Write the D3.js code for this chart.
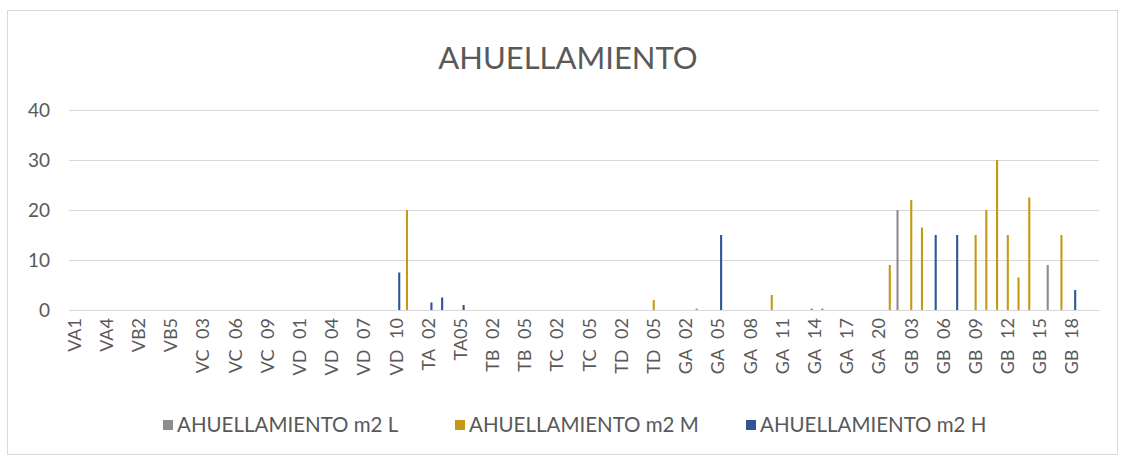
<!DOCTYPE html>
<html>
<head>
<meta charset="utf-8">
<script src="https://cdn.jsdelivr.net/npm/d3@7/dist/d3.min.js"></script>
<style>
  html, body { margin: 0; padding: 0; background: #fff; }
  svg text { font-family: Lato, "Open Sans", sans-serif; fill: #595959; }
</style>
</head>
<body>
<svg id="chart" width="1124" height="459"></svg>
<script>
// Sections of the road survey
const categories = [
  "VA1", "VA2", "VA3", "VA4", "VA5", "VB1", "VB2", "VB3", "VB4", "VB5",
  "VC 01", "VC 02", "VC 03", "VC 04", "VC 05", "VC 06", "VC 07", "VC 08", "VC 09", "VC 10", "VC 11",
  "VD 01", "VD 02", "VD 03", "VD 04", "VD 05", "VD 06", "VD 07", "VD 08", "VD 09", "VD 10", "VD 11",
  "TA 01", "TA 02", "TA 03", "TA 04", "TA05", "TA 06",
  "TB 01", "TB 02", "TB 03", "TB 04", "TB 05", "TB 06",
  "TC 01", "TC 02", "TC 03", "TC 04", "TC 05", "TC 06",
  "TD 01", "TD 02", "TD 03", "TD 04", "TD 05", "TD 06",
  "GA 01", "GA 02", "GA 03", "GA 04", "GA 05", "GA 06", "GA 07", "GA 08", "GA 09", "GA 10",
  "GA 11", "GA 12", "GA 13", "GA 14", "GA 15", "GA 16", "GA 17", "GA 18", "GA 19", "GA 20",
  "GB 01", "GB 02", "GB 03", "GB 04", "GB 05", "GB 06", "GB 07", "GB 08", "GB 09", "GB 10",
  "GB 11", "GB 12", "GB 13", "GB 14", "GB 15", "GB 16", "GB 17", "GB 18", "GB 19", "GB 20"
];

// Rutting area (m2) per severity level, one value per section
const valuesL = [
  0, 0, 0, 0, 0, 0, 0, 0, 0, 0,
  0, 0, 0, 0, 0, 0, 0, 0, 0, 0, 0,
  0, 0, 0, 0, 0, 0, 0, 0, 0, 0, 0,
  0, 0, 0, 0, 0, 0,
  0, 0, 0, 0, 0, 0,
  0, 0, 0, 0, 0, 0,
  0, 0, 0, 0, 0, 0,
  0, 0, 0, 0, 0, 0, 0, 0, 0, 0,
  0, 0, 0, 0.3, 0.3, 0, 0, 0, 0, 0,
  0, 20, 0, 0, 0, 0, 0, 0, 0, 0,
  0, 0, 0, 0, 0, 9, 0, 0, 0, 0
];
const valuesM = [
  0, 0, 0, 0, 0, 0, 0, 0, 0, 0,
  0, 0, 0, 0, 0, 0, 0, 0, 0, 0, 0,
  0, 0, 0, 0, 0, 0, 0, 0, 0, 0, 20,
  0, 0, 0, 0, 0, 0,
  0, 0, 0, 0, 0, 0,
  0, 0, 0, 0, 0, 0,
  0, 0, 0, 0, 2, 0,
  0, 0, 0.3, 0, 0, 0, 0, 0, 0, 3,
  0, 0, 0, 0, 0, 0, 0, 0, 0, 0,
  9, 0, 22, 16.5, 0, 0, 0, 0, 15, 20,
  30, 15, 6.5, 22.5, 0, 0, 15, 0, 0, 0
];
const valuesH = [
  0, 0, 0, 0, 0, 0, 0, 0, 0, 0,
  0, 0, 0, 0, 0, 0, 0, 0, 0, 0, 0,
  0, 0, 0, 0, 0, 0, 0, 0, 0, 7.5, 0,
  0, 1.5, 2.5, 0, 1, 0,
  0, 0, 0, 0, 0, 0,
  0, 0, 0, 0, 0, 0,
  0, 0, 0, 0, 0, 0,
  0, 0, 0, 0, 15, 0, 0, 0, 0, 0,
  0, 0, 0, 0, 0, 0, 0, 0, 0, 0,
  0, 0, 0, 0, 15, 0, 15, 0, 0, 0,
  0, 0, 0, 0, 0, 0, 0, 4, 0, 0
];

const seriesNames = ["AHUELLAMIENTO m2 L", "AHUELLAMIENTO m2 M", "AHUELLAMIENTO m2 H"];
const seriesColors = ["#8c8c8c", "#c49a14", "#2f5597"];
const yTicks = [0, 10, 20, 30, 40];
const labelEvery = 3;

const seriesValues = [valuesL, valuesM, valuesH];

const svg = d3.select("#chart");
const plot = { left: 69, right: 1099, top: 110, bottom: 310 };

// Chart frame
svg.append("rect")
  .attr("x", 7.5).attr("y", 10.5)
  .attr("width", 1110).attr("height", 444)
  .attr("fill", "#fff").attr("stroke", "#d9d9d9").attr("stroke-width", 1);

// Title
svg.append("text")
  .attr("x", 568).attr("y", 69)
  .attr("text-anchor", "middle")
  .style("font-size", "31px")
  .text("AHUELLAMIENTO");

// Scales
const x0 = d3.scaleBand().domain(categories).range([plot.left, plot.right]).padding(0);
const x1 = d3.scaleBand().domain(seriesNames).range([0, x0.bandwidth()])
  .paddingInner(0.3).paddingOuter(0.44);
const y = d3.scaleLinear().domain([0, 40]).range([plot.bottom, plot.top]);

// Gridlines and value labels
const yAxis = d3.axisLeft(y).tickValues(yTicks).tickSize(-(plot.right - plot.left)).tickPadding(19);
const gy = svg.append("g").attr("transform", `translate(${plot.left},0)`).call(yAxis);
gy.select(".domain").remove();
gy.selectAll(".tick line").attr("stroke", "#d9d9d9").attr("stroke-width", 1);
gy.selectAll(".tick text").style("font-size", "19px").style("font-family", "Lato, sans-serif").attr("fill", "#595959");

// Bars
const groups = svg.append("g").selectAll("g")
  .data(seriesNames)
  .join("g")
  .attr("fill", (d, i) => seriesColors[i]);

groups.selectAll("rect")
  .data((s, si) => categories.map((c, ci) => ({ c, s, v: seriesValues[si][ci] })).filter(d => d.v > 0))
  .join("rect")
  .attr("x", d => x0(d.c) + x1(d.s))
  .attr("width", x1.bandwidth())
  .attr("y", d => y(d.v))
  .attr("height", d => y(0) - y(d.v));

// Category axis
const xAxis = d3.axisBottom(x0)
  .tickValues(categories.filter((c, i) => i % labelEvery === 0))
  .tickSize(0).tickPadding(0);
const gx = svg.append("g").attr("transform", `translate(0,${plot.bottom})`).call(xAxis);
gx.select(".domain").attr("stroke", "#d9d9d9");
gx.selectAll(".tick text")
  .attr("transform", "rotate(-90)")
  .attr("x", -8).attr("y", 0).attr("dy", "0.35em")
  .attr("text-anchor", "end")
  .attr("fill", "#595959")
  .style("font-size", "18px")
  .style("word-spacing", "6px")
  .style("font-family", "Lato, sans-serif");

// Legend
const legendX = [163, 455, 746];
const legend = svg.append("g").selectAll("g")
  .data(seriesNames)
  .join("g")
  .attr("transform", (d, i) => `translate(${legendX[i]},425)`);
legend.append("rect")
  .attr("x", 0).attr("y", -5).attr("width", 10).attr("height", 10)
  .attr("fill", (d, i) => seriesColors[i]);
legend.append("text")
  .attr("x", 14).attr("y", 0).attr("dy", "0.35em")
  .style("font-size", "20.5px")
  .text(d => d);
</script>
</body>
</html>
